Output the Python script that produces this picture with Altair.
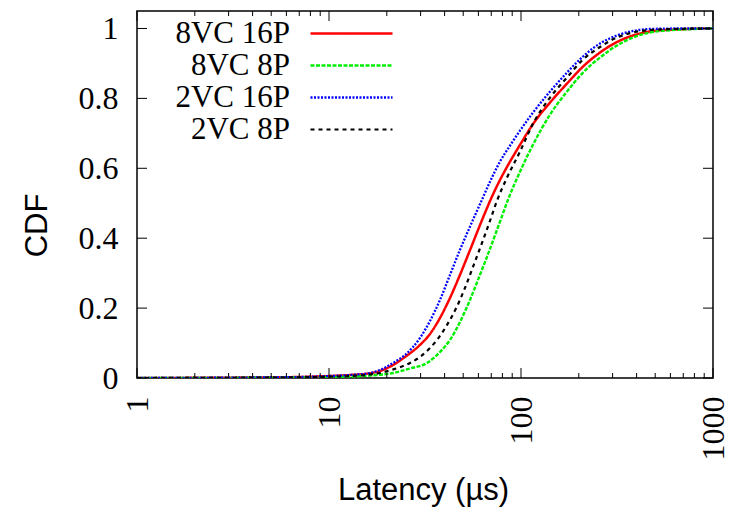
import altair as alt
import pandas as pd

# ---------------- data ----------------
series_names = ["8VC 16P", "8VC 8P", "2VC 16P", "2VC 8P"]
series_colors = ["#ff0000", "#00ee00", "#0000ff", "#000000"]

red_x = [1, 3.88, 7.06, 10.12, 12.86, 16.35, 18.44, 21.54, 24.88, 29.78, 33.58, 37.86, 42.68, 48.1, 54.2, 62.6, 68.96, 77.7, 84.5, 98.8, 115.5, 141.6, 173.6, 210.4, 257.9, 316.2, 383, 469.9, 698, 1000]
red_y = [0, 0.0014, 0.0029, 0.0057, 0.0086, 0.0135, 0.0201, 0.0372, 0.0602, 0.0946, 0.1261, 0.1719, 0.2292, 0.2951, 0.3653, 0.4513, 0.5063, 0.5665, 0.6037, 0.6670, 0.7266, 0.7880, 0.8424, 0.8911, 0.9312, 0.9613, 0.9799, 0.9914, 0.9980, 1.0]

green_x = [1, 3.88, 7.06, 10.12, 12.86, 16.35, 21.54, 26.42, 32.39, 37.86, 42.68, 48.12, 54.25, 59.7, 66.5, 77.7, 85.55, 98.8, 115.5, 141.6, 173.6, 210.4, 257.9, 316.2, 383, 469.9, 698, 1000]
green_y = [0, 0.0006, 0.0014, 0.0029, 0.0043, 0.0072, 0.0143, 0.0272, 0.043, 0.0745, 0.1089, 0.1605, 0.2235, 0.2808, 0.3467, 0.4470, 0.5100, 0.5903, 0.6676, 0.7536, 0.8195, 0.8739, 0.9169, 0.9513, 0.9742, 0.9885, 0.9971, 1.0]

blue_x = [1, 3.88, 7.06, 10.12, 12.86, 16.35, 18.44, 21.54, 24.88, 29.78, 33.58, 37.86, 42.68, 48.1, 54.2, 62.6, 68.96, 77.7, 87.6, 98.8, 115.5, 141.6, 173.6, 210.4, 257.9, 316.2, 383, 469.9, 673, 1000]
blue_y = [0, 0.0014, 0.0029, 0.0057, 0.0086, 0.0143, 0.0229, 0.0430, 0.0659, 0.1146, 0.1633, 0.2235, 0.2951, 0.3668, 0.4327, 0.5100, 0.5616, 0.6189, 0.6648, 0.7077, 0.7593, 0.8195, 0.8739, 0.9198, 0.9570, 0.9799, 0.9928, 0.9986, 1.0, 1.0]

black_x = [1, 3.88, 7.06, 10.12, 12.86, 16.35, 18.44, 21.54, 26.42, 29.78, 33.58, 36.52, 41.19, 46.42, 51.09, 56.23, 62.66, 68.96, 74.99, 84.5, 98.8, 115.5, 141.6, 173.6, 210.4, 257.9, 316.2, 383, 469.9, 698, 1000]
black_y = [0, 0.0009, 0.002, 0.0037, 0.0057, 0.01, 0.0143, 0.0244, 0.043, 0.0602, 0.086, 0.1089, 0.1519, 0.2049, 0.2579, 0.3181, 0.3868, 0.4499, 0.5072, 0.5731, 0.6476, 0.7278, 0.8023, 0.8596, 0.9112, 0.9470, 0.9742, 0.9885, 0.9957, 0.9991, 1.0]

y_tick_values = [0, 0.2, 0.4, 0.6, 0.8, 1.0]
x_major_values = [1, 10, 100, 1000]
x_minor_values = [2, 3, 4, 5, 6, 7, 8, 9, 20, 30, 40, 50, 60, 70, 80, 90, 200, 300, 400, 500, 600, 700, 800, 900]

# ---------------- build table ----------------
rows = []
for name, xs, ys in zip(series_names, [red_x, green_x, blue_x, black_x], [red_y, green_y, blue_y, black_y]):
    for i, (xv, yv) in enumerate(zip(xs, ys)):
        rows.append({"series": name, "latency": xv, "cdf": yv, "idx": i})
df = pd.DataFrame(rows)

W, H = 576, 367
SERIF = "Liberation Serif"
SANS = "Liberation Sans"

xscale = alt.Scale(type="log", domain=[1, 1000], nice=False)
yscale = alt.Scale(domain=[0, 1.05], nice=False, zero=False)

x_axis = alt.Axis(values=x_major_values, format="d", labelAngle=270,
                  labelAlign="right", labelBaseline="middle", labelPadding=18,
                  ticks=False, domain=False, grid=False,
                  labelFont=SERIF, labelFontSize=32, labelColor="black",
                  titleFont=SANS, titleFontSize=31, titleFontWeight="normal",
                  titleColor="black", titleX=286, titleY=112, titleBaseline="middle")
y_axis = alt.Axis(values=y_tick_values, format="~g", labelPadding=19,
                  ticks=False, domain=False, grid=False,
                  labelFont=SERIF, labelFontSize=32, labelColor="black",
                  labelBaseline="middle",
                  titleFont=SANS, titleFontSize=31, titleFontWeight="normal",
                  titleColor="black", titleAngle=270, titleX=-100, titleY=214,
                  titleBaseline="middle", titleAlign="center")

lines = alt.Chart(df).mark_line(interpolate="monotone", clip=True).encode(
    x=alt.X("latency:Q", scale=xscale, title="Latency (µs)", axis=x_axis),
    y=alt.Y("cdf:Q", scale=yscale, title="CDF", axis=y_axis),
    color=alt.Color("series:N", scale=alt.Scale(domain=series_names, range=series_colors),
                    legend=alt.Legend(title=None, orient="none", legendX=120, legendY=6,
                                      symbolType="M2.467,0H7.933", symbolSize=900,
                                      rowPadding=0, padding=0, labelAlign="right",
                                      labelOffset=0, labelFont=SERIF,
                                      labelFontSize=31, labelColor="black", labelLimit=0,
                                      labelBaseline="middle")),
    strokeDash=alt.StrokeDash("series:N", scale=alt.Scale(domain=series_names,
                              range=[[1, 0], [4, 1.5], [2, 1.5], [4, 4]])),
    strokeWidth=alt.StrokeWidth("series:N", scale=alt.Scale(domain=series_names,
                                range=[2.5, 2.2, 2.5, 1.0])),
    order=alt.Order("idx:Q"),
)

ytick_df = pd.DataFrame({"cdf": y_tick_values})
xmaj_df = pd.DataFrame({"latency": x_major_values})
xmin_df = pd.DataFrame({"latency": x_minor_values})

tick_style = dict(color="black", strokeWidth=1)
y_left = alt.Chart(ytick_df).mark_rule(**tick_style).encode(
    y=alt.Y("cdf:Q", scale=yscale, title="CDF", axis=y_axis), x=alt.value(0), x2=alt.value(10))
y_right = alt.Chart(ytick_df).mark_rule(**tick_style).encode(
    y=alt.Y("cdf:Q", scale=yscale, title="CDF", axis=y_axis), x=alt.value(W), x2=alt.value(W - 10))
xmaj_bot = alt.Chart(xmaj_df).mark_rule(**tick_style).encode(
    x=alt.X("latency:Q", scale=xscale, title="Latency (µs)", axis=x_axis), y=alt.value(H), y2=alt.value(H - 10))
xmaj_top = alt.Chart(xmaj_df).mark_rule(**tick_style).encode(
    x=alt.X("latency:Q", scale=xscale, title="Latency (µs)", axis=x_axis), y=alt.value(0), y2=alt.value(10))
xmin_bot = alt.Chart(xmin_df).mark_rule(**tick_style).encode(
    x=alt.X("latency:Q", scale=xscale, title="Latency (µs)", axis=x_axis), y=alt.value(H), y2=alt.value(H - 5))
xmin_top = alt.Chart(xmin_df).mark_rule(**tick_style).encode(
    x=alt.X("latency:Q", scale=xscale, title="Latency (µs)", axis=x_axis), y=alt.value(0), y2=alt.value(5))

chart = alt.layer(lines, y_left, y_right, xmaj_bot, xmaj_top, xmin_bot, xmin_top).properties(
    width=W, height=H,
    autosize=alt.AutoSizeParams(type="none"),
    padding={"left": 137, "top": 11, "right": 21, "bottom": 132},
    background="white",
).configure_view(stroke="black", strokeWidth=1.5)

chart.save("out.html", embed_options={"renderer": "svg", "actions": False})
